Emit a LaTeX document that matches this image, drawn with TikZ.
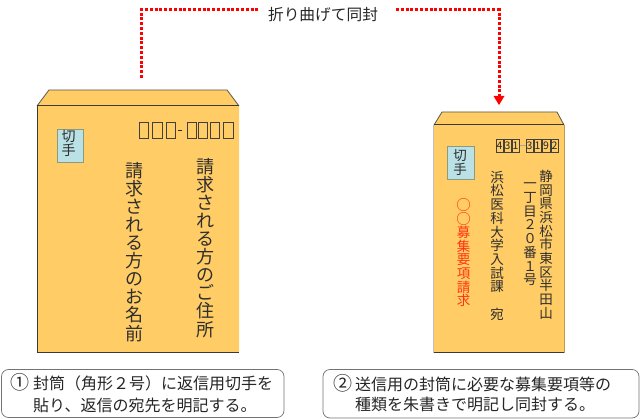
\documentclass[tikz,border=0pt]{standalone}
\usepackage{fontspec}
\setmainfont{Noto Sans CJK JP}
\usetikzlibrary{arrows.meta}
\makeatletter
\newcommand{\vstk}[3]{% size, pitch, text
  \fontsize{#1pt}{#2pt}\selectfont
  \vbox{\baselineskip=#2pt\lineskiplimit=-100pt\@tfor\my@c:=#3\do{\hbox to #1pt{\hss\my@c\hss}}}}
\makeatother
\newcommand{\bigmaru}{{\fontsize{14.5}{14.5}\selectfont ○}}
\tikzset{
  x=1pt,y=-1pt,
  env/.style={fill=envcol,draw=none},
  edge/.style={draw=edgecol,line width=1pt},
  flapline/.style={draw=edgecol!85,line width=0.8pt},
  stamp/.style={fill=stampcol,draw=stampedge,line width=0.8pt},
  vtxt/.style={inner sep=0pt,outer sep=0pt,anchor=north,text=black!82},
  zip/.style={draw=black!75,line width=0.6pt,fill=none},
  zipd/.style={inner sep=0pt,font=\fontsize{10.5}{10.5}\selectfont,text=black!85},
  capbox/.style={draw=black!55,line width=0.7pt,rounded corners=7pt,fill=white},
  captxt/.style={inner sep=0pt,anchor=west,font=\fontsize{16}{16}\selectfont,text=black!85},
  capnum/.style={inner sep=0pt,font=\fontsize{19}{19}\selectfont,text=black!85},
  fold/.style={draw=red,line width=3pt,dash pattern=on 3pt off 1.8pt},
}
\definecolor{envcol}{HTML}{FFCC66}
\definecolor{edgecol}{HTML}{3A3A30}
\definecolor{stampcol}{HTML}{B9E1E6}
\definecolor{stampedge}{HTML}{8C9A80}
\definecolor{redtxt}{HTML}{FF3311}
\begin{document}
\begin{tikzpicture}
\useasboundingbox (0,0) rectangle (640,419);
% top connector
\coordinate (s) at (141,78);
\coordinate (c1) at (141,10);
\coordinate (g1) at (258,10);
\coordinate (g2) at (396,10);
\coordinate (c2) at (499,10);
\coordinate (e) at (499,105);
\coordinate (e0) at (499,96);
\node[inner sep=0pt,font=\fontsize{15.7}{16}\selectfont,text=black!85] (foldlbl) at (323,15) {折り曲げて同封};
\draw[fold] (s) -- (c1) -- (g1);
\draw[fold] (g2) -- (c2) -- (e0);
\fill[red] (493.5,96) -- (504.5,96) -- (e) -- cycle;
% left envelope
\fill[env] (37,106) -- (49,90) -- (227,90) -- (239,106) -- (239,353) -- (37,353) -- cycle;
\draw[flapline] (37,106) -- (49,90) -- (227,90) -- (239,106);
\draw[edge] (239,106) -- (37,106) -- (37,353) -- (239,353);
\draw[stamp] (57.5,129) rectangle (83,162);
\node[vtxt] (st1) at (68.5,130) {\vstk{14}{14.5}{切手}};
\foreach \a/\b in {139/148,152/162,166/175,187/196,198/207,210/219,223/233}
  \draw[zip] (\a,122.5) rectangle (\b,138.5);
\draw[black!85,line width=0.8pt] (177.5,130) -- (182,130);
\node[vtxt] (addr) at (205.5,158) {\vstk{18}{18.1}{請求される方のご住所}};
\node[vtxt] (name) at (134,162) {\vstk{18}{18.1}{請求される方のお名前}};
% right envelope
\fill[env] (434,125) -- (442,112) -- (557,112) -- (564,125) -- (564,353) -- (434,353) -- cycle;
\draw[black!25,line width=0.8pt] (433.8,125) -- (433.8,353);
\draw[flapline] (434,125) -- (442,112) -- (557,112) -- (564,125);
\draw[edge] (434,125) -- (564,125);
\draw[edge] (434,353) -- (564,353);
\draw[envcol!75!black,line width=0.6pt] (564,125) -- (564,353);
\draw[stamp] (447.5,146) rectangle (474,179);
\node[vtxt] (st2) at (460,150) {\vstk{13.5}{14}{切手}};
\foreach \a/\b/\d in {496/503/4,504/511/3,512/519/1,526/533/3,534/541/1,542/550/9,551/558/2}{
  \draw[zip] (\a,139) rectangle (\b,152);
  \node[zipd] at ({(\a+\b)/2},145.5) {\d};
}
\draw[black!35,line width=0.7pt] (519.5,145) -- (526,145);
\node[vtxt] (r1) at (546,170) {\vstk{13.5}{13.7}{静岡県浜松市東区半田山}};
\node[vtxt] (r2) at (530,183) {\vstk{13.5}{13.7}{一丁目２０番１号}};
\node[vtxt] (r3) at (497,171) {\vstk{13.5}{13.7}{浜松医科大学入試課　宛}};
\node[vtxt,text=redtxt] (r4) at (463.5,198.5) {\vstk{13.5}{13.6}{\bigmaru\bigmaru 募集要項請求}};
% captions
\draw[capbox] (1.5,369.5) rectangle (284,417.5);
\draw[capbox] (323,369.5) rectangle (639,418);
\node[capnum] (c1a) at (19.5,382.5) {①};
\node[captxt] (c1b) at (33,383) {封筒（角形２号）に返信用切手を};
\node[captxt] (c1c) at (33,405) {貼り、返信の宛先を明記する。};
\node[capnum] (c2a) at (342.5,383.5) {②};
\node[captxt] (c2b) at (355,384) {送信用の封筒に必要な募集要項等の};
\node[captxt] (c2c) at (355,404.5) {種類を朱書きで明記し同封する。};
\end{tikzpicture}
\end{document}
